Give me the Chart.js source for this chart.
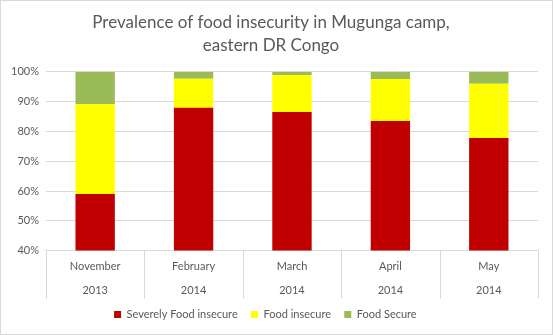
<!DOCTYPE html>
<html>
<head>
<meta charset="utf-8">
<script src="https://cdn.jsdelivr.net/npm/chart.js@4"></script>
<style>
  html, body { margin: 0; padding: 0; background: #fff; }
  #wrap { width: 553px; height: 335px; box-sizing: border-box; border: 1px solid #d9d9d9; }
</style>
</head>
<body>
<div id="wrap"><canvas id="foodChart" width="551" height="333"></canvas></div>
<script>
// categories (month / year)
const months = ["November", "February", "March", "April", "May"];
const years = ["2013", "2014", "2014", "2014", "2014"];

// share of households, %
const severelyInsecure = [59, 88, 86.5, 83.5, 77.8];
const foodInsecure = [30.2, 9.7, 12.5, 14.1, 18.2];
const foodSecure = [10.8, 2.3, 1, 2.4, 4];

const yTicks = [40, 50, 60, 70, 80, 90, 100];

const labels = months.map((m, i) => [m, years[i]]);
const grey = "#595959";
const lineGrey = "#d9d9d9";

Chart.defaults.font.family = "Lato, 'Open Sans', sans-serif";
Chart.defaults.color = grey;

// vertical separators between the category labels (Excel style multi-level axis)
const categorySeparators = {
  id: "categorySeparators",
  afterDraw(chart) {
    const xs = chart.scales.x;
    const ctx = chart.ctx;
    const n = xs.ticks.length;
    const step = n > 1 ? xs.getPixelForValue(1) - xs.getPixelForValue(0) : xs.width;
    ctx.save();
    ctx.strokeStyle = lineGrey;
    ctx.lineWidth = 1;
    for (let i = 0; i <= n; i++) {
      const x = Math.round(xs.getPixelForValue(0) - step / 2 + i * step) + 0.5;
      ctx.beginPath();
      ctx.moveTo(x, xs.top);
      ctx.lineTo(x, xs.top + 48);
      ctx.stroke();
    }
    ctx.restore();
  }
};

new Chart(document.getElementById("foodChart"), {
  type: "bar",
  data: {
    labels: labels,
    datasets: [
      { label: "Severely Food insecure", data: severelyInsecure, backgroundColor: "#c00000" },
      { label: "Food insecure", data: foodInsecure, backgroundColor: "#ffff00" },
      { label: "Food Secure", data: foodSecure, backgroundColor: "#9bbb59" }
    ]
  },
  options: {
    responsive: false,
    animation: false,
    layout: { padding: { left: 3, right: 14, top: 0, bottom: 4 } },
    datasets: { bar: { barPercentage: 0.4, categoryPercentage: 1 } },
    plugins: {
      title: {
        display: true,
        text: ["Prevalence of food insecurity in Mugunga camp,", "eastern DR Congo"],
        color: grey,
        font: { size: 17, weight: "normal", lineHeight: 1.35 },
        padding: { top: 10, bottom: 15 }
      },
      legend: {
        position: "bottom",
        labels: { boxWidth: 7, boxHeight: 7, color: grey, font: { size: 11 }, padding: 2,
          generateLabels: (chart) => Chart.defaults.plugins.legend.labels.generateLabels(chart).map(l => ({ ...l, text: l.text + "    " })) }
      },
      tooltip: { enabled: false }
    },
    scales: {
      x: {
        stacked: true,
        grid: { display: false, drawTicks: false },
        border: { display: true, color: lineGrey },
        ticks: { color: grey, font: { size: 11, lineHeight: 2.2 }, padding: 4, maxRotation: 0, autoSkip: false }
      },
      y: {
        stacked: true,
        min: 40,
        max: 100,
        afterBuildTicks: (axis) => { axis.ticks = yTicks.map(v => ({ value: v })); },
        grid: { color: lineGrey, drawTicks: false },
        border: { display: false },
        ticks: { color: grey, font: { size: 11 }, padding: 7, callback: v => v + "%" }
      }
    }
  },
  plugins: [categorySeparators]
});
</script>
</body>
</html>
